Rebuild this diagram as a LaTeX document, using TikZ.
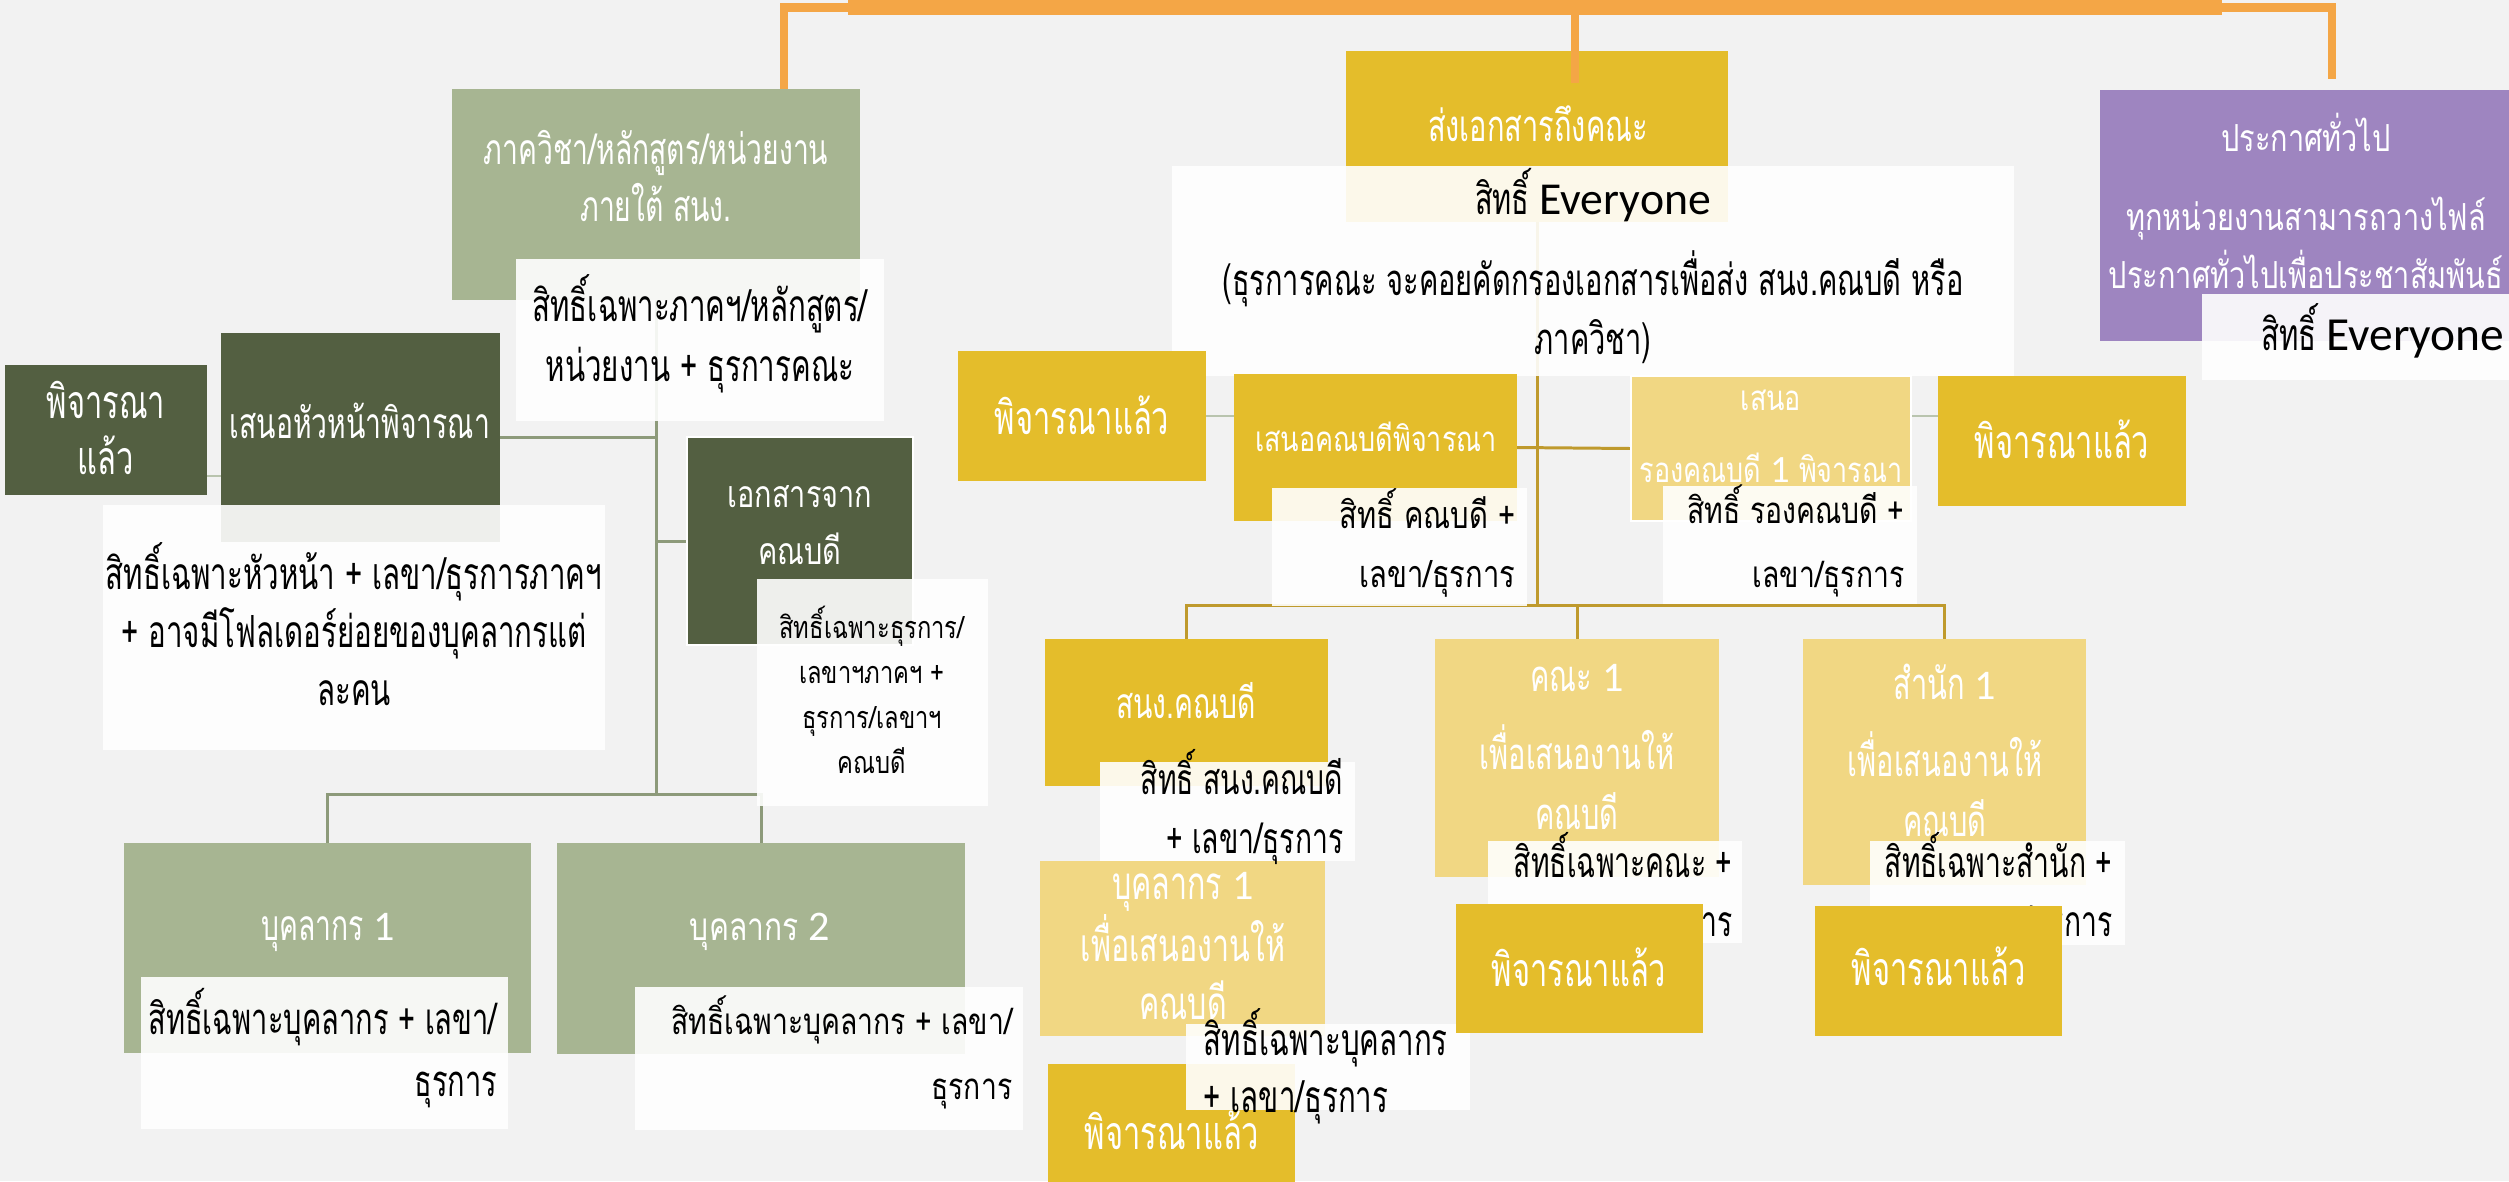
\documentclass[tikz,border=0pt]{standalone}
\usepackage{fontspec}
\usetikzlibrary{fit}
\newfontfamily\thn[Script=Thai,FakeStretch=0.665]{Loma}
\newfontfamily\thw[Script=Thai,FakeStretch=0.775]{Loma}
\newfontfamily\lat{Carlito}
\newcommand{\latn}[2][12]{{\lat\fontsize{#1}{#1}\selectfont #2}}

\definecolor{bggray}{HTML}{F2F2F2}
\definecolor{orangebar}{HTML}{F4A646}
\definecolor{sage}{HTML}{A7B592}
\definecolor{darkgreen}{HTML}{535F41}
\definecolor{gold}{HTML}{E4BD2B}
\definecolor{palegold}{HTML}{F1D783}
\definecolor{lavender}{HTML}{9E85C0}
\definecolor{greenline}{HTML}{8D9A7A}
\definecolor{goldline}{HTML}{BF9A2D}
\definecolor{paleline}{HTML}{B9C4AE}

\pgfdeclarelayer{back}
\pgfsetlayers{back,main}

\tikzset{
  box/.style={rectangle, inner sep=0pt, outer sep=0pt},
  sagebox/.style={box, fill=sage},
  darkbox/.style={box, fill=darkgreen},
  goldbox/.style={box, fill=gold},
  palebox/.style={box, fill=palegold},
  rightsbox/.style={box, fill=white, fill opacity=0.9},
  wn/.style 2 args={inner sep=0pt, text=white, align=center, font=\thn\fontsize{#1}{#2}\selectfont},
  ww/.style 2 args={inner sep=0pt, text=white, align=center, font=\thw\fontsize{#1}{#2}\selectfont},
  bn/.style 2 args={inner sep=0pt, text=black, font=\thn\fontsize{#1}{#2}\selectfont},
  bw/.style 2 args={inner sep=0pt, text=black, font=\thw\fontsize{#1}{#2}\selectfont},
  orangeline/.style={draw=orangebar, line width=2.3pt},
  greenconn/.style={draw=greenline, line width=0.85pt},
  goldconn/.style={draw=goldline, line width=0.85pt},
  paleconn/.style={draw=paleline, line width=0.6pt},
}

\begin{document}
\begin{tikzpicture}[x=0.01cm, y=-0.01cm]
\useasboundingbox (0,0) rectangle (2509,1181);
\clip (0,0) rectangle (2509,1181);

% ฝั่งภาควิชา
\node[sagebox, fit={(452,89) (860,300)}] (dept) {};
\node[wn={12.1}{16.2}] (dept-t) at (656,176) {ภาควิชา/หลักสูตร/หน่วยงาน\\ภายใต้ สนง.};
\node[darkbox, fit={(5,365) (207,495)}] (done1) {};
\node[wn={13.2}{16}] (done1-t) at (106,428) {พิจารณา\\แล้ว};
\node[darkbox, fit={(221,333) (500,542)}] (head) {};
\node[wn={12.1}{16}] (head-t) at (360,421) {เสนอหัวหน้าพิจารณา};
\node[darkbox, draw=white, line width=0.6pt, fit={(687,437) (913,645)}] (dean) {};
\node[ww={10.6}{16}] (dean-t) at (800,525) {เอกสารจาก\\คณบดี};
\node[sagebox, fit={(124,843) (531,1053)}] (staff1) {};
\node[wn={12.1}{16}] (staff1-t) at (328,932) {บุคลากร \latn{1}};
\node[sagebox, fit={(557,843) (965,1054)}] (staff2) {};
\node[ww={11}{16}] (staff2-t) at (760,932) {บุคลากร \latn{2}};

% สิทธิ์ฝั่งภาควิชา
\node[rightsbox, fit={(516,259) (884,421)}] (dept-r) {};
\node[bn={12.6}{17}, align=center] (dept-rt) at (700,334) {สิทธิ์เฉพาะภาคฯ/หลักสูตร/\\หน่วยงาน + ธุรการคณะ};
\node[rightsbox, fit={(103,505) (605,750)}] (head-r) {};
\node[bn={12.6}{16.5}, align=center] (head-rt) at (354,624) {สิทธิ์เฉพาะหัวหน้า + เลขา/ธุรการภาคฯ\\+ อาจมีโฟลเดอร์ย่อยของบุคลากรแต่\\ละคน};
\node[rightsbox, fit={(757,579) (988,806)}] (dean-r) {};
\node[bw={8.7}{12.8}, align=center] (dean-rt) at (872,690) {สิทธิ์เฉพาะธุรการ/\\เลขาฯภาคฯ +\\ธุรการ/เลขาฯ\\คณบดี};
\node[rightsbox, fit={(141,977) (508,1129)}] (staff1-r) {};
\node[bn={12.4}{17.4}, align=right, anchor=east] (staff1-rt) at (498,1048) {สิทธิ์เฉพาะบุคลากร + เลขา/\\ธุรการ};
\node[rightsbox, fit={(635,987) (1023,1130)}] (staff2-r) {};
\node[bw={10.4}{18.5}, align=right, anchor=east] (staff2-rt) at (1013,1052) {สิทธิ์เฉพาะบุคลากร + เลขา/\\ธุรการ};

% ฝั่งคณะ
\node[goldbox, fit={(1346,51) (1728,222)}] (send) {};
\node[wn={12.4}{16}] (send-t) at (1538,124) {ส่งเอกสารถึงคณะ};
\node[rightsbox, fit={(1172,166) (2014,376)}] (send-r) {};
\node[bn={12.4}{17}, align=center] (send-rt) at (1593,266) {สิทธิ์ \latn[13]{Everyone}\\[6pt](ธุรการคณะ จะคอยคัดกรองเอกสารเพื่อส่ง สนง.คณบดี หรือ\\ภาควิชา)};

% เส้นจากหัวบนสุด
\node[box, fill=orangebar, fit={(848,0) (2222,15)}] (root) {};
\coordinate (deptIn) at (784,89);
\coordinate (noticeIn) at (2332,79);
\draw[orangeline] (root.west) -| (deptIn);
\draw[orangeline] (root.east) -| (noticeIn);
\draw[orangeline] (root.south) ++(40,0) -- ++(0,68);

\node[goldbox, fit={(958,351) (1206,481)}] (done2) {};
\node[wn={13.2}{16}] (done2-t) at (1082,415) {พิจารณาแล้ว};
\node[goldbox, fit={(1234,374) (1517,521)}] (prop) {};
\node[ww={9.9}{16}] (prop-t) at (1376,437) {เสนอคณบดีพิจารณา};
\node[palebox, draw=white, line width=0.6pt, fit={(1631,376) (1911,521)}] (vprop) {};
\node[ww={9.9}{20.5}] (vprop-t) at (1771,436) {เสนอ\\รองคณบดี \latn[11]{1} พิจารณา};
\node[goldbox, fit={(1938,376) (2186,506)}] (done3) {};
\node[wn={13.2}{16}] (done3-t) at (2062,439) {พิจารณาแล้ว};
\node[box, fill=lavender, fit={(2100,90) (2512,341)}] (notice) {};
\node[ww={10.6}{16.5}] (notice-t) at (2306,201) {ประกาศทั่วไป\\[6pt]ทุกหน่วยงานสามารถวางไฟล์\\ประกาศทั่วไปเพื่อประชาสัมพันธ์};
\node[goldbox, fit={(1045,639) (1328,786)}] (office) {};
\node[wn={12.1}{16}] (office-t) at (1186,701) {สนง.คณบดี};
\node[palebox, fit={(1435,639) (1719,877)}] (fac) {};
\node[wn={12.4}{17}] (fac-t) at (1577,747) {คณะ \latn{1}\\[5pt]เพื่อเสนองานให้\\คณบดี};
\node[palebox, fit={(1803,639) (2086,885)}] (sect) {};
\node[wn={12.4}{17}] (sect-t) at (1945,750) {สำนัก \latn{1}\\[5pt]เพื่อเสนองานให้\\คณบดี};
\node[palebox, fit={(1040,861) (1325,1036)}] (staffy) {};
\node[wn={13}{16.5}] (staffy-t) at (1183,946) {บุคลากร \latn{1}\\เพื่อเสนองานให้\\คณบดี};
\node[goldbox, fit={(1048,1064) (1295,1194)}] (done4) {};
\node[wn={13.2}{16}] (done4-t) at (1172,1130) {พิจารณาแล้ว};

% สิทธิ์ฝั่งคณะ
\node[rightsbox, fit={(1272,488) (1527,606)}] (prop-r) {};
\node[bw={10.7}{17}, align=right, anchor=east] (prop-rt) at (1516,543) {สิทธิ์ คณบดี +\\เลขา/ธุรการ};
\node[rightsbox, fit={(1663,486) (1917,604)}] (vprop-r) {};
\node[bw={10.4}{18}, align=right, anchor=east] (vprop-rt) at (1905,541) {สิทธิ์ รองคณบดี +\\เลขา/ธุรการ};
\node[rightsbox, fit={(2202,294) (2520,380)}] (notice-r) {};
\node[bn={12.6}{16}, anchor=east] (notice-rt) at (2505,331) {สิทธิ์ \latn[13.5]{Everyone}};
\node[rightsbox, fit={(1100,762) (1355,861)}] (office-r) {};
\node[bn={12.1}{17}, align=right, anchor=east] (office-rt) at (1344,807) {สิทธิ์ สนง.คณบดี\\+ เลขา/ธุรการ};
\node[rightsbox, fit={(1186,1024) (1470,1110)}] (staffy-r) {};
\node[bn={12.6}{16.2}, align=left, anchor=west] (staffy-rt) at (1203,1066) {สิทธิ์เฉพาะบุคลากร\\+ เลขา/ธุรการ};
\node[rightsbox, fit={(1488,841) (1742,943)}] (fac-r) {};
\node[bn={12.1}{17}, align=right, anchor=east] (fac-rt) at (1733,890) {สิทธิ์เฉพาะคณะ +\\เลขา/ธุรการ};
\node[rightsbox, fit={(1870,841) (2125,945)}] (sect-r) {};
\node[bn={12.1}{17}, align=right, anchor=east] (sect-rt) at (2113,890) {สิทธิ์เฉพาะสำนัก +\\เลขา/ธุรการ};

\node[goldbox, fit={(1456,904) (1703,1033)}] (done5) {};
\node[wn={13.2}{16}] (done5-t) at (1579,967) {พิจารณาแล้ว};
\node[goldbox, fit={(1815,906) (2062,1036)}] (done6) {};
\node[wn={13.2}{16}] (done6-t) at (1939,966) {พิจารณาแล้ว};

% เส้นเชื่อม
\begin{pgfonlayer}{back}
\fill[bggray] (0,0) rectangle (2509,1181);
\draw[greenconn] (dept.south) -- ++(0,494);
\draw[greenconn] (staff1.north) -- ++(0,-49) -| (staff2.north);
\draw[greenconn] (head.east) -- (head.east -| dept.south);
\draw[greenconn] (dean.west) -- (dean.west -| dept.south);
\coordinate (bc) at (207,476);
\draw[paleconn] (bc) -- (bc -| head.west);
\draw[goldconn] (send.south) -- ++(0,383);
\draw[goldconn] (office.north) -- ++(0,-34) -| (sect.north);
\draw[goldconn] (fac.north) -- ++(0,-34);
\draw[goldconn] (prop.east) -- (vprop.west);
\draw[paleconn] (done2.east) -- (done2.east -| prop.west);
\coordinate (jk) at (1911,416);
\draw[paleconn] (jk) -- (jk -| done3.west);
\end{pgfonlayer}
\end{tikzpicture}
\end{document}
